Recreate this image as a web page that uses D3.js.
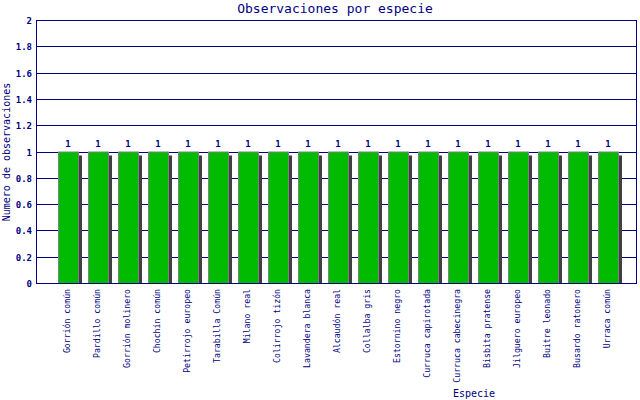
<!DOCTYPE html>
<html lang="es">
<head>
    <meta charset="UTF-8">
    <title>Observaciones por especie</title>
    <script src="https://cdn.jsdelivr.net/npm/d3@7"></script>
    <style>
        body{ margin: 0; background: #fff; }
        text{ font-family: "DejaVu Sans Mono", monospace; fill: #000080; }
        .grid line{ stroke: #000080; stroke-width: 1px; }
        .title{ font-size: 13px; }
        .axis-title{ font-size: 10px; }
        .tick-label{ font-size: 9px; font-weight: bold; }
        .cat-label{ font-size: 8.2px; }
        .value{ font-size: 9px; font-weight: bold; }
    </style>
</head>
<body>
<svg id="chart" width="640" height="400"></svg>
<script>
    // data
    const especies = ["Gorrión común", "Pardillo común", "Gorrión molinero", "Chochín común",
        "Petirrojo europeo", "Tarabilla Común", "Milano real", "Colirrojo tizón",
        "Lavandera blanca", "Alcaudón real", "Collalba gris", "Estornino negro",
        "Curruca capirotada", "Curruca cabecinegra", "Bisbita pratense", "Jilguero europeo",
        "Buitre leonado", "Busardo ratonero", "Urraca común"];
    const observaciones = [1, 1, 1, 1, 1, 1, 1, 1, 1, 1, 1, 1, 1, 1, 1, 1, 1, 1, 1];
    const yTicks = [0, 0.2, 0.4, 0.6, 0.8, 1, 1.2, 1.4, 1.6, 1.8, 2];

    // plot box
    const plotLeft = 36, plotRight = 636, plotTop = 20, plotBottom = 283;
    const svg = d3.select('#chart');

    let x = d3.scaleBand()
        .domain(especies)
        .range([53, 623])
        .paddingInner(1/3)
        .paddingOuter(1/6);
    let y = d3.scaleLinear().domain([0, 2]).range([plotBottom, plotTop]);

    // grid lines
    let grid = svg.append('g').attr('class', 'grid');
    grid.selectAll('line').data(yTicks).enter().append('line')
        .attr('x1', plotLeft).attr('x2', plotRight)
        .attr('y1', d => Math.round(y(d)) + .5).attr('y2', d => Math.round(y(d)) + .5);

    // tick labels
    svg.append('g').selectAll('text').data(yTicks).enter().append('text')
        .attr('class', 'tick-label')
        .attr('x', 32).attr('y', d => Math.round(y(d)) + 3.5)
        .attr('text-anchor', 'end')
        .text(d => d3.format('~g')(d));

    // bars: shadow then bar
    let bars = svg.append('g');
    bars.selectAll('.shadow').data(observaciones).enter().append('rect')
        .attr('class', 'shadow')
        .attr('x', (d, i) => x(especies[i]) + 4)
        .attr('y', d => y(d) + 4)
        .attr('width', x.bandwidth())
        .attr('height', d => plotBottom - y(d) - 4)
        .attr('fill', '#404040');
    bars.selectAll('.bar').data(observaciones).enter().append('rect')
        .attr('class', 'bar')
        .attr('x', (d, i) => x(especies[i]) + .5)
        .attr('y', d => y(d) + .5)
        .attr('width', x.bandwidth())
        .attr('height', d => plotBottom - y(d))
        .attr('fill', '#00bb00')
        .attr('stroke', '#808080')
        .attr('stroke-width', 1);

    // value labels
    svg.append('g').selectAll('text').data(observaciones).enter().append('text')
        .attr('class', 'value')
        .attr('x', (d, i) => x(especies[i]) + x.bandwidth() / 2)
        .attr('y', d => y(d) - 5)
        .attr('text-anchor', 'middle')
        .text(d => d);

    // axes frame
    svg.append('line').attr('x1', plotLeft + .5).attr('x2', plotLeft + .5).attr('y1', plotTop).attr('y2', plotBottom + 1)
        .attr('stroke', '#000080');
    svg.append('line').attr('x1', plotRight + .5).attr('x2', plotRight + .5).attr('y1', plotTop).attr('y2', plotBottom + 1)
        .attr('stroke', '#000080');
    svg.append('line').attr('x1', plotLeft).attr('x2', plotRight + 1).attr('y1', plotBottom + .5).attr('y2', plotBottom + .5)
        .attr('stroke', '#000080');

    // category labels
    svg.append('g').selectAll('text').data(especies).enter().append('text')
        .attr('class', 'cat-label')
        .attr('transform', d => `translate(${x(d) + x.bandwidth() / 2 + 2},289) rotate(-90)`)
        .attr('text-anchor', 'end')
        .text(d => d);

    // titles
    svg.append('text').attr('class', 'title')
        .attr('x', 335).attr('y', 13).attr('text-anchor', 'middle')
        .text('Observaciones por especie');
    svg.append('text').attr('class', 'axis-title')
        .attr('x', 474).attr('y', 397).attr('text-anchor', 'middle')
        .text('Especie');
    svg.append('text').attr('class', 'axis-title')
        .attr('transform', 'translate(10,152) rotate(-90)')
        .attr('text-anchor', 'middle')
        .text('Numero de observaciones');
</script>
</body>
</html>
